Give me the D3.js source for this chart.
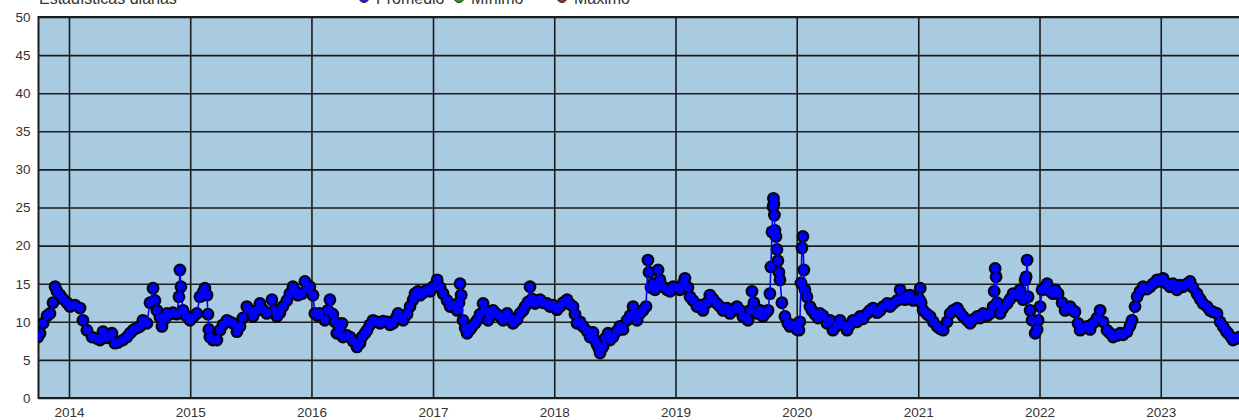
<!DOCTYPE html>
<html>
<head>
<meta charset="utf-8">
<script src="https://cdn.jsdelivr.net/npm/d3@7"></script>
<style>
  body { margin: 0; overflow: hidden; background: #fff; }
  svg { display: block; font-family: Arial, "Liberation Sans", sans-serif; }
  .tick-label { fill: #333; font-size: 13.5px; }
</style>
</head>
<body>
<svg id="chart" width="1239" height="420"></svg>
<script>
// iffy wrapper
(function() {

var title = 'Estadísticas diarias';
var seriesNames = ['Promedio', 'Mínimo', 'Máximo'];

// decimal years of the daily readings (sampled) and the daily average
var fecha = [
  2013.744, 2013.761, 2013.786, 2013.819, 2013.843, 2013.868, 2013.885, 2013.901, 2013.926, 2013.951,
  2013.984, 2014.008, 2014.049, 2014.091, 2014.115, 2014.148, 2014.190, 2014.231, 2014.256, 2014.280,
  2014.313, 2014.338, 2014.354, 2014.379, 2014.404, 2014.445, 2014.478, 2014.503, 2014.528, 2014.561,
  2014.585, 2014.610, 2014.643, 2014.668, 2014.693, 2014.709, 2014.725, 2014.750, 2014.767, 2014.791,
  2014.808, 2014.833, 2014.857, 2014.890, 2014.907, 2014.915, 2014.923, 2014.940, 2014.965, 2014.998,
  2015.022, 2015.055, 2015.080, 2015.105, 2015.121, 2015.138, 2015.146, 2015.154, 2015.162, 2015.187,
  2015.220, 2015.245, 2015.270, 2015.303, 2015.327, 2015.352, 2015.385, 2015.410, 2015.434, 2015.467,
  2015.492, 2015.517, 2015.550, 2015.575, 2015.599, 2015.632, 2015.674, 2015.698, 2015.715, 2015.740,
  2015.764, 2015.797, 2015.822, 2015.847, 2015.871, 2015.888, 2015.921, 2015.946, 2015.970, 2015.987,
  2016.012, 2016.028, 2016.053, 2016.069, 2016.110, 2016.135, 2016.152, 2016.176, 2016.193, 2016.209,
  2016.234, 2016.251, 2016.259, 2016.292, 2016.317, 2016.341, 2016.374, 2016.399, 2016.416, 2016.440,
  2016.457, 2016.481, 2016.506, 2016.539, 2016.564, 2016.589, 2016.622, 2016.646, 2016.671, 2016.696,
  2016.712, 2016.729, 2016.754, 2016.786, 2016.811, 2016.836, 2016.852, 2016.877, 2016.894, 2016.918,
  2016.951, 2016.976, 2017.001, 2017.034, 2017.059, 2017.083, 2017.116, 2017.141, 2017.166, 2017.199,
  2017.215, 2017.223, 2017.232, 2017.248, 2017.265, 2017.281, 2017.306, 2017.322, 2017.347, 2017.364,
  2017.388, 2017.413, 2017.430, 2017.454, 2017.471, 2017.495, 2017.528, 2017.553, 2017.578, 2017.611,
  2017.636, 2017.660, 2017.693, 2017.718, 2017.743, 2017.759, 2017.784, 2017.800, 2017.817, 2017.842,
  2017.858, 2017.883, 2017.908, 2017.941, 2017.965, 2017.990, 2018.023, 2018.048, 2018.073, 2018.106,
  2018.130, 2018.155, 2018.171, 2018.188, 2018.213, 2018.237, 2018.270, 2018.295, 2018.320, 2018.336,
  2018.353, 2018.369, 2018.378, 2018.402, 2018.419, 2018.444, 2018.460, 2018.485, 2018.518, 2018.542,
  2018.567, 2018.600, 2018.625, 2018.650, 2018.666, 2018.683, 2018.707, 2018.732, 2018.757, 2018.773,
  2018.782, 2018.798, 2018.815, 2018.831, 2018.848, 2018.856, 2018.872, 2018.897, 2018.930, 2018.955,
  2018.979, 2019.012, 2019.037, 2019.062, 2019.078, 2019.103, 2019.120, 2019.144, 2019.177, 2019.202,
  2019.227, 2019.260, 2019.284, 2019.309, 2019.342, 2019.367, 2019.392, 2019.425, 2019.449, 2019.474,
  2019.507, 2019.532, 2019.556, 2019.581, 2019.598, 2019.614, 2019.631, 2019.647, 2019.672, 2019.697,
  2019.721, 2019.746, 2019.763, 2019.779, 2019.787, 2019.796, 2019.804, 2019.808, 2019.812, 2019.816,
  2019.820, 2019.829, 2019.837, 2019.845, 2019.853, 2019.862, 2019.878, 2019.903, 2019.927, 2019.944,
  2019.969, 2019.985, 2020.002, 2020.018, 2020.026, 2020.035, 2020.043, 2020.051, 2020.059, 2020.068,
  2020.084, 2020.109, 2020.125, 2020.150, 2020.175, 2020.191, 2020.216, 2020.249, 2020.274, 2020.298,
  2020.331, 2020.356, 2020.381, 2020.414, 2020.439, 2020.463, 2020.496, 2020.521, 2020.546, 2020.579,
  2020.603, 2020.628, 2020.661, 2020.686, 2020.711, 2020.744, 2020.768, 2020.793, 2020.826, 2020.851,
  2020.876, 2020.892, 2020.909, 2020.933, 2020.958, 2020.991, 2021.007, 2021.016, 2021.024, 2021.040,
  2021.073, 2021.098, 2021.123, 2021.156, 2021.181, 2021.205, 2021.238, 2021.263, 2021.288, 2021.321,
  2021.345, 2021.370, 2021.403, 2021.428, 2021.453, 2021.486, 2021.510, 2021.535, 2021.568, 2021.593,
  2021.617, 2021.626, 2021.634, 2021.642, 2021.650, 2021.675, 2021.700, 2021.733, 2021.758, 2021.782,
  2021.815, 2021.840, 2021.865, 2021.881, 2021.890, 2021.898, 2021.906, 2021.923, 2021.939, 2021.964,
  2021.980, 2021.988, 2022.005, 2022.021, 2022.046, 2022.063, 2022.087, 2022.112, 2022.129, 2022.153,
  2022.186, 2022.211, 2022.236, 2022.252, 2022.277, 2022.293, 2022.318, 2022.335, 2022.359, 2022.392,
  2022.417, 2022.442, 2022.475, 2022.500, 2022.524, 2022.557, 2022.582, 2022.607, 2022.640, 2022.664,
  2022.689, 2022.722, 2022.747, 2022.763, 2022.788, 2022.805, 2022.829, 2022.854, 2022.887, 2022.912,
  2022.937, 2022.970, 2022.994, 2023.019, 2023.052, 2023.077, 2023.101, 2023.134, 2023.159, 2023.184,
  2023.217, 2023.242, 2023.266, 2023.299, 2023.324, 2023.349, 2023.382, 2023.406, 2023.431, 2023.464,
  2023.489, 2023.514, 2023.538, 2023.555, 2023.580, 2023.596, 2023.621, 2023.646
];

var promedio = [
  8.0, 8.5, 9.8, 10.8, 11.1, 12.5, 14.6, 14.0, 13.5, 13.0,
  12.5, 12.0, 12.2, 11.8, 10.2, 8.9, 8.0, 7.8, 7.6, 8.7,
  7.9, 8.1, 8.5, 7.2, 7.3, 7.6, 8.0, 8.5, 8.9, 9.2,
  9.4, 10.2, 9.8, 12.5, 14.4, 12.8, 11.5, 10.6, 9.4, 10.4,
  11.1, 11.0, 11.2, 11.0, 13.3, 16.8, 14.6, 11.5, 10.8, 10.2,
  10.6, 11.1, 13.3, 13.8, 14.4, 13.5, 11.0, 9.0, 8.0, 7.6,
  7.6, 8.9, 9.6, 10.2, 10.0, 9.8, 8.7, 9.4, 10.5, 12.0,
  11.5, 10.7, 11.5, 12.4, 11.6, 11.1, 12.9, 11.5, 10.7, 11.2,
  12.0, 12.8, 13.7, 14.6, 14.0, 13.5, 13.7, 15.3, 14.2, 14.6,
  13.5, 11.1, 10.8, 11.1, 10.2, 11.5, 12.9, 11.0, 10.0, 8.5,
  9.2, 9.8, 8.0, 8.2, 8.0, 7.5, 6.7, 7.2, 8.0, 8.5,
  8.9, 9.6, 10.2, 10.0, 9.8, 10.1, 10.0, 9.6, 9.8, 10.5,
  11.1, 10.6, 10.2, 11.0, 12.0, 12.9, 13.7, 14.0, 13.5, 13.8,
  14.2, 14.0, 14.6, 15.5, 14.5, 13.7, 12.8, 12.0, 12.2, 11.5,
  12.5, 15.0, 13.5, 10.2, 9.2, 8.5, 9.0, 9.4, 9.8, 10.2,
  11.0, 12.4, 11.5, 10.2, 10.8, 11.5, 11.0, 10.7, 10.2, 11.1,
  10.5, 9.8, 10.3, 11.1, 11.5, 12.0, 12.6, 14.6, 13.0, 12.4,
  12.8, 12.9, 12.5, 12.4, 12.0, 12.2, 11.6, 12.0, 12.5, 12.9,
  12.3, 12.0, 11.0, 9.8, 10.0, 9.4, 8.8, 8.0, 8.6, 7.6,
  7.0, 6.5, 5.9, 6.7, 7.8, 8.5, 7.6, 8.0, 8.8, 9.4,
  9.0, 10.2, 10.8, 12.0, 11.0, 10.2, 11.1, 11.5, 12.0, 18.1,
  16.5, 14.5, 15.0, 14.2, 14.8, 16.8, 15.5, 14.6, 14.2, 14.0,
  14.6, 14.5, 14.2, 15.0, 15.7, 14.5, 13.3, 12.8, 12.0, 12.2,
  11.5, 12.5, 13.5, 13.0, 12.4, 12.0, 11.5, 11.8, 11.1, 11.5,
  12.0, 11.5, 10.7, 10.5, 10.2, 11.5, 14.0, 12.5, 11.1, 11.5,
  10.7, 11.2, 11.5, 13.7, 17.2, 21.8, 25.1, 26.2, 25.5, 24.0,
  22.0, 21.2, 19.5, 18.0, 16.5, 15.5, 12.5, 10.7, 9.8, 9.4,
  9.6, 9.4, 9.0, 8.9, 10.0, 15.1, 19.7, 21.2, 16.8, 14.2,
  13.3, 12.0, 11.5, 11.0, 10.5, 11.1, 10.8, 9.8, 10.2, 8.9,
  9.5, 10.2, 9.6, 8.9, 9.6, 10.2, 10.0, 10.7, 10.4, 11.1,
  11.5, 11.8, 11.2, 11.5, 12.0, 12.4, 12.0, 12.4, 12.8, 14.2,
  13.0, 12.9, 13.4, 13.5, 12.8, 12.9, 13.0, 14.4, 12.5, 11.5,
  11.0, 10.7, 10.0, 9.4, 9.1, 8.9, 10.0, 11.1, 11.5, 11.8,
  11.2, 10.7, 10.2, 9.8, 10.3, 10.7, 10.5, 11.1, 10.8, 11.1,
  12.0, 14.0, 17.0, 15.9, 12.5, 11.1, 11.8, 12.4, 13.0, 13.7,
  13.5, 14.2, 12.9, 15.5, 15.9, 18.1, 13.3, 11.5, 10.2, 8.5,
  9.0, 10.2, 12.0, 14.2, 14.5, 15.0, 14.0, 13.7, 14.2, 13.7,
  12.5, 11.5, 11.8, 12.0, 11.5, 11.3, 9.8, 8.9, 9.2, 9.4,
  9.0, 9.8, 10.5, 11.5, 10.0, 8.9, 8.5, 8.0, 8.2, 8.5,
  8.3, 8.7, 9.5, 10.2, 12.0, 13.3, 14.0, 14.6, 14.3, 14.6,
  15.0, 15.5, 15.3, 15.7, 15.0, 14.6, 15.0, 14.2, 14.8, 14.6,
  15.0, 15.3, 14.5, 13.7, 13.0, 12.4, 12.0, 11.5, 11.3, 11.1,
  10.0, 9.4, 8.8, 8.5, 8.0, 7.6, 7.8, 8.0
];

var yTicks = [0, 5, 10, 15, 20, 25, 30, 35, 40, 45, 50];
var legendColors = ['#1f1fd0', '#2e9a2e', '#8a3b2b'];

document.addEventListener('DOMContentLoaded', function() {
    drawChart();
});

function toDate(y) {
    var yr = Math.floor(y),
        a = new Date(yr, 0, 1),
        b = new Date(yr + 1, 0, 1);
    return new Date(+a + (y - yr) * (b - a));
}

function styleAxis(g) {
    g.select('.domain').remove();
    g.selectAll('.tick line')
        .attr('stroke', '#1c1c1c')
        .attr('stroke-width', 1.6);
    g.selectAll('.tick text')
        .attr('class', 'tick-label')
        .attr('font-family', null)
        .attr('font-size', null);
}

function drawChart() {

    var svg = d3.select('#chart');

    var plot = {left: 38.5, top: 17, right: 1239, bottom: 398};

    var data = fecha.map(function(f, i) {
        return {date: toDate(f), value: promedio[i]};
    });

    var x = d3.scaleTime()
        .domain([toDate(2013.7485), toDate(2023.6455)])
        .range([plot.left, plot.right]);

    var y = d3.scaleLinear()
        .domain([0, 50])
        .range([plot.bottom, plot.top]);

    // plot background
    svg.append('rect')
        .attr('x', plot.left)
        .attr('y', plot.top)
        .attr('width', plot.right - plot.left)
        .attr('height', plot.bottom - plot.top)
        .attr('fill', '#a9cbe2');

    svg.append('clipPath')
        .attr('id', 'plot-clip')
      .append('rect')
        .attr('x', plot.left)
        .attr('y', plot.top)
        .attr('width', plot.right - plot.left)
        .attr('height', plot.bottom - plot.top);

    // horizontal grid + y labels
    svg.append('g')
        .attr('transform', 'translate(' + plot.left + ',0)')
        .call(d3.axisLeft(y).tickValues(yTicks)
            .tickSize(-(plot.right - plot.left)).tickPadding(8))
        .call(styleAxis);

    // vertical grid + year labels
    svg.append('g')
        .attr('transform', 'translate(0,' + plot.bottom + ')')
        .call(d3.axisBottom(x).ticks(d3.timeYear.every(1))
            .tickFormat(d3.timeFormat('%Y'))
            .tickSize(-(plot.bottom - plot.top)).tickPadding(9))
        .call(styleAxis);

    // plot frame (left, top, bottom)
    svg.append('path')
        .attr('d', 'M' + plot.right + ',' + plot.top + 'H' + plot.left +
                    'V' + plot.bottom + 'H' + plot.right)
        .attr('fill', 'none')
        .attr('stroke', '#1c1c1c')
        .attr('stroke-width', 2);

    var series = svg.append('g')
        .attr('clip-path', 'url(#plot-clip)');

    var cx = function(d) { return x(d.date); },
        cy = function(d) { return y(d.value); };

    // dark outline of the markers, then their blue fill, then the line
    series.selectAll('.halo')
        .data(data)
      .enter().append('circle')
        .attr('class', 'halo')
        .attr('cx', cx)
        .attr('cy', cy)
        .attr('r', 6.4)
        .attr('fill', '#04040c');

    series.selectAll('.dot')
        .data(data)
      .enter().append('circle')
        .attr('class', 'dot')
        .attr('cx', cx)
        .attr('cy', cy)
        .attr('r', 4.1)
        .attr('fill', '#0000ff');

    series.append('path')
        .datum(data)
        .attr('fill', 'none')
        .attr('stroke', '#0000ff')
        .attr('stroke-width', 1.6)
        .attr('d', d3.line().x(cx).y(cy));

    // title and legend, cut by the top edge as in the original
    svg.append('text')
        .attr('x', 39)
        .attr('y', 3.5)
        .attr('fill', '#333')
        .attr('font-size', 16)
        .text(title);

    var legendX = [364, 459, 562];
    var legend = svg.selectAll('.legend')
        .data(seriesNames)
      .enter().append('g')
        .attr('class', 'legend')
        .attr('transform', function(d, i) { return 'translate(' + legendX[i] + ',0)'; });

    legend.append('circle')
        .attr('cx', 0)
        .attr('cy', -2.5)
        .attr('r', 5)
        .attr('fill', function(d, i) { return legendColors[i]; })
        .attr('stroke', '#222')
        .attr('stroke-width', 1);

    legend.append('text')
        .attr('x', 12)
        .attr('y', 3.5)
        .attr('fill', '#333')
        .attr('font-size', 16)
        .text(function(d) { return d; });
}

})(); // end iffy
</script>
</body>
</html>
